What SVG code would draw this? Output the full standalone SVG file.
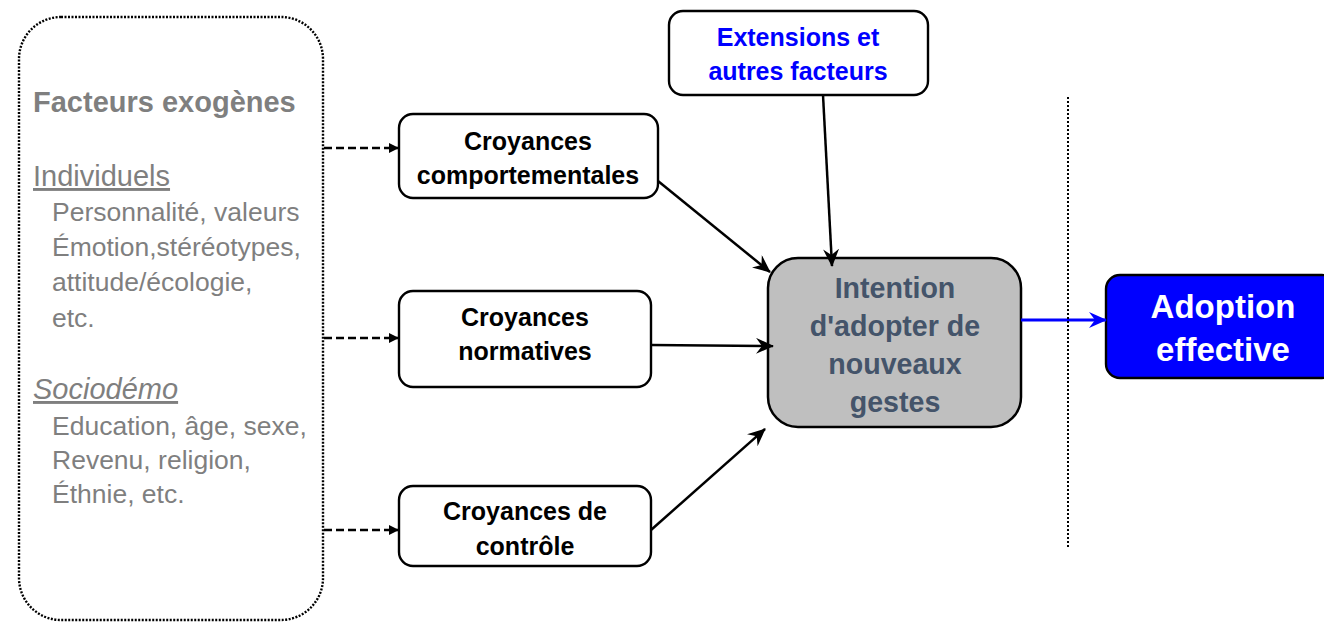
<svg xmlns="http://www.w3.org/2000/svg" width="1324" height="623" viewBox="0 0 1324 623">
<style>
.t{font-family:"Liberation Sans",Arial,sans-serif}
.g{fill:#7f7f7f;font-size:29px}
.s{font-size:26.5px}
.b{font-weight:bold;text-anchor:middle}
.f{font-size:25px}
.i{font-size:28.6px;fill:#44546a}
.box{fill:#fff;stroke:#000;stroke-width:2.4}
.c{stroke:#000;stroke-width:2.5;fill:none}
</style>
<defs>
<marker id="ah" viewBox="0 0 18 16" refX="17" refY="8" markerWidth="18" markerHeight="16" markerUnits="userSpaceOnUse" orient="auto">
<path d="M0,0 L18,8 L0,16 L6,8 z" fill="#000"/>
</marker>
<marker id="ahb" viewBox="0 0 18 16" refX="17" refY="8" markerWidth="18" markerHeight="16" markerUnits="userSpaceOnUse" orient="auto">
<path d="M0,0 L18,8 L0,16 L6,8 z" fill="#0000ff"/>
</marker>
<marker id="tri" viewBox="0 0 10 10" refX="10" refY="5" markerWidth="10" markerHeight="10" markerUnits="userSpaceOnUse" orient="auto">
<path d="M0,0 L10,5 L0,10 z" fill="#000"/>
</marker>
</defs>
<g id="exogenes">
<rect x="19" y="17" width="304" height="603" rx="42" fill="none" stroke="#000" stroke-width="2.4" stroke-dasharray="2,1.5"/>
<text class="t g" x="33" y="112" font-weight="bold" font-size="31">Facteurs exogènes</text>
<text class="t g" x="33" y="186" text-decoration="underline">Individuels</text>
<text class="t g s" x="52" y="221">Personnalité, valeurs</text>
<text class="t g s" x="52" y="256">Émotion,stéréotypes,</text>
<text class="t g s" x="52" y="291">attitude/écologie,</text>
<text class="t g s" x="52" y="327">etc.</text>
<text class="t g" x="33" y="399" font-style="italic" text-decoration="underline">Sociodémo</text>
<text class="t g s" x="52" y="435">Education, âge, sexe,</text>
<text class="t g s" x="52" y="469">Revenu, religion,</text>
<text class="t g s" x="52" y="503">Éthnie, etc.</text>
</g>
<g id="comportementales">
<rect class="box" x="399" y="114" width="259" height="84" rx="14"/>
<text class="t b f" x="528" y="150">Croyances</text>
<text class="t b f" x="528" y="184">comportementales</text>
</g>
<g id="normatives">
<rect class="box" x="399" y="291" width="252" height="96" rx="14"/>
<text class="t b f" x="525" y="326">Croyances</text>
<text class="t b f" x="525" y="360">normatives</text>
</g>
<g id="controle">
<rect class="box" x="399" y="486" width="252" height="80" rx="14"/>
<text class="t b f" x="525" y="520">Croyances de</text>
<text class="t b f" x="525" y="555">contrôle</text>
</g>
<g id="extensions">
<rect class="box" x="669" y="11" width="259" height="84" rx="14"/>
<text class="t b f" x="798" y="46" fill="#0000ff">Extensions et</text>
<text class="t b f" x="798" y="80" fill="#0000ff">autres facteurs</text>
</g>
<g id="intention">
<rect x="768" y="258" width="253" height="169" rx="30" fill="#bfbfbf" stroke="#000" stroke-width="2.5"/>
<text class="t b i" x="895" y="298">Intention</text>
<text class="t b i" x="895" y="336">d'adopter de</text>
<text class="t b i" x="895" y="374">nouveaux</text>
<text class="t b i" x="895" y="412">gestes</text>
</g>
<g id="adoption">
<rect x="1106" y="275" width="230" height="103" rx="14" fill="#0000ff" stroke="#000" stroke-width="2.4"/>
<text class="t b" x="1223" y="318" font-size="33" fill="#fff">Adoption</text>
<text class="t b" x="1223" y="361" font-size="33" fill="#fff">effective</text>
</g>
<g id="connectors">
<line class="c" x1="324" y1="148" x2="399" y2="148" stroke-dasharray="8,4" marker-end="url(#tri)"/>
<line class="c" x1="324" y1="338" x2="399" y2="338" stroke-dasharray="8,4" marker-end="url(#tri)"/>
<line class="c" x1="324" y1="530" x2="399" y2="530" stroke-dasharray="8,4" marker-end="url(#tri)"/>
<line class="c" x1="658" y1="181" x2="770" y2="272" marker-end="url(#ah)"/>
<line class="c" x1="651" y1="345" x2="773" y2="346" marker-end="url(#ah)"/>
<line class="c" x1="651" y1="530" x2="765" y2="429" marker-end="url(#ah)"/>
<line class="c" x1="823" y1="95" x2="832" y2="266" marker-end="url(#ah)"/>
<line x1="1021" y1="320" x2="1106" y2="320" stroke="#0000ff" stroke-width="2.8" marker-end="url(#ahb)"/>
<line x1="1068" y1="97" x2="1068" y2="547" stroke="#000" stroke-width="2" stroke-dasharray="2,2"/>
</g>
</svg>
